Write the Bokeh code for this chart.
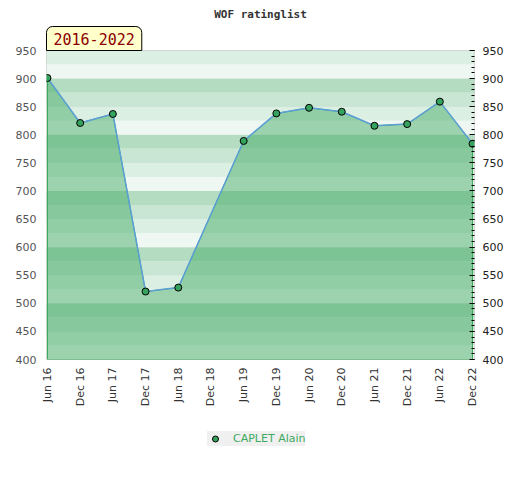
import math
from bokeh.plotting import figure
from bokeh.layouts import column
from bokeh.models import (LinearAxis, FixedTicker, SingleIntervalTicker, BoxAnnotation,
                          Title, Legend, LegendItem, Range1d, ColumnDataSource)
from bokeh.embed import file_html
from bokeh.resources import INLINE

# ---- data ----
periods = ["Jun 16", "Dec 16", "Jun 17", "Dec 17", "Jun 18", "Dec 18", "Jun 19",
           "Dec 19", "Jun 20", "Dec 20", "Jun 21", "Dec 21", "Jun 22", "Dec 22"]
ratings = [901, 821, 837, 521, 528, None, 789, 838, 848, 841, 816, 819, 859, 784]
player = "CAPLET Alain"
title_text = "WOF ratinglist"
span_text = "2016-2022"
y_min, y_max = 400, 950

xs = [i for i, r in enumerate(ratings) if r is not None]
ys = [r for r in ratings if r is not None]
src = ColumnDataSource(dict(x=xs, y=ys))

p = figure(width=520, height=420, output_backend="svg", toolbar_location=None,
           x_range=Range1d(-0.03, len(periods) - 1 + 0.06),
           y_range=Range1d(y_min, y_max),
           min_border_left=46, min_border_right=46, min_border_top=50, min_border_bottom=61,
           background_fill_color="white", border_fill_color="white")
p.outline_line_color = "#d0d0d0"

# background bands
band_colors = ["#eff7f2", "#dcefe3", "#c8e6d3", "#b3dcc1"]
b = y_min
while b < y_max:
    p.add_layout(BoxAnnotation(bottom=b, top=b + 25, fill_color=band_colors[(b // 25) % 4],
                               fill_alpha=1.0, line_color=None, level="underlay"))
    b += 25

# grid
p.xgrid.visible = False
p.ygrid.ticker = SingleIntervalTicker(interval=50)
p.ygrid.grid_line_color = "#d4d4d4"
p.ygrid.grid_line_alpha = 0.8

# area
px = [xs[0]] + xs + [xs[-1]]
py = [y_min] + ys + [y_min]
p.patch(px, py, fill_color="#41aa63", fill_alpha=0.48, line_color="#3aa85a", line_width=1)
p.line("x", "y", source=src, line_color="#5b9fd6", line_width=1.5)
p.scatter("x", "y", source=src, size=7, fill_color="#35a35e", line_color="black", line_width=1)

# axes
p.xaxis.ticker = FixedTicker(ticks=list(range(len(periods))))
p.xaxis.major_label_overrides = {i: s for i, s in enumerate(periods)}
p.xaxis.major_label_orientation = math.pi / 2
p.xaxis.major_tick_out = 0
p.xaxis.major_tick_in = 0
p.xaxis.minor_tick_out = 0
p.xaxis.axis_line_color = None
p.xaxis.major_label_standoff = 8
p.xaxis.major_label_text_font = "DejaVu Sans"
p.xaxis.major_label_text_font_size = "11px"
p.xaxis.major_label_text_color = "#333333"

p.yaxis.ticker = SingleIntervalTicker(interval=50)
p.yaxis.major_tick_out = 0
p.yaxis.major_tick_in = 0
p.yaxis.minor_tick_out = 0
p.yaxis.minor_tick_in = 0
p.yaxis.axis_line_color = None
p.yaxis.major_label_standoff = 10
p.yaxis.major_label_text_font = "DejaVu Sans"
p.yaxis.major_label_text_font_size = "11px"
p.yaxis.major_label_text_color = "#555555"

ry = LinearAxis(ticker=SingleIntervalTicker(interval=50, num_minor_ticks=5))
ry.major_tick_out = 0
ry.major_tick_in = 5
ry.minor_tick_out = 0
ry.minor_tick_in = 3
ry.major_tick_line_color = "black"
ry.minor_tick_line_color = "black"
ry.axis_line_color = None
ry.major_label_standoff = 8
ry.major_label_text_font = "DejaVu Sans"
ry.major_label_text_font_size = "11px"
ry.major_label_text_color = "#222222"
p.add_layout(ry, "right")

# year box (nearest the frame)
p.add_layout(Title(text=span_text, align="left", standoff=0,
                   text_font="DejaVu Sans Mono", text_font_style="normal",
                   text_font_size="15px", text_color="#8b0000",
                   background_fill_color="#ffffcc", border_line_color="black", border_line_width=1,
                   padding=dict(left=7, right=7, top=6, bottom=6),
                   border_radius=dict(top_left=6, top_right=6, bottom_right=0, bottom_left=0)),
             "above")

# main title (outermost)
p.title = Title(text=title_text, align="center", standoff=0,
                padding=dict(left=0, right=0, top=0, bottom=4),
                text_font="DejaVu Sans Mono", text_font_style="bold",
                text_font_size="11px", text_color="#333333")

# legend strip (its frame is aligned with the chart frame by the column layout)
lg = figure(width=520, height=40, output_backend="svg", toolbar_location=None,
            x_range=Range1d(0, 1), y_range=Range1d(0, 1),
            min_border_left=0, min_border_right=0, min_border_top=0, min_border_bottom=0,
            background_fill_color="white", border_fill_color="white")
lg.axis.visible = False
lg.grid.visible = False
lg.outline_line_color = None
key = lg.scatter("x", "y", source=src, size=7, fill_color="#35a35e",
                 line_color="black", line_width=1)
legend = Legend(items=[LegendItem(label=player, renderers=[key])],
                location=(161, 14), orientation="horizontal",
                background_fill_color="#f0f0f0", background_fill_alpha=1.0,
                border_line_color=None, padding=2, glyph_width=16, glyph_height=15,
                label_standoff=10, label_height=15,
                label_text_font="DejaVu Sans", label_text_font_size="11px",
                label_text_color="#3daa5f", margin=0)
lg.add_layout(legend, "center")

open("out.html", "w").write(file_html(column(p, lg), INLINE))
